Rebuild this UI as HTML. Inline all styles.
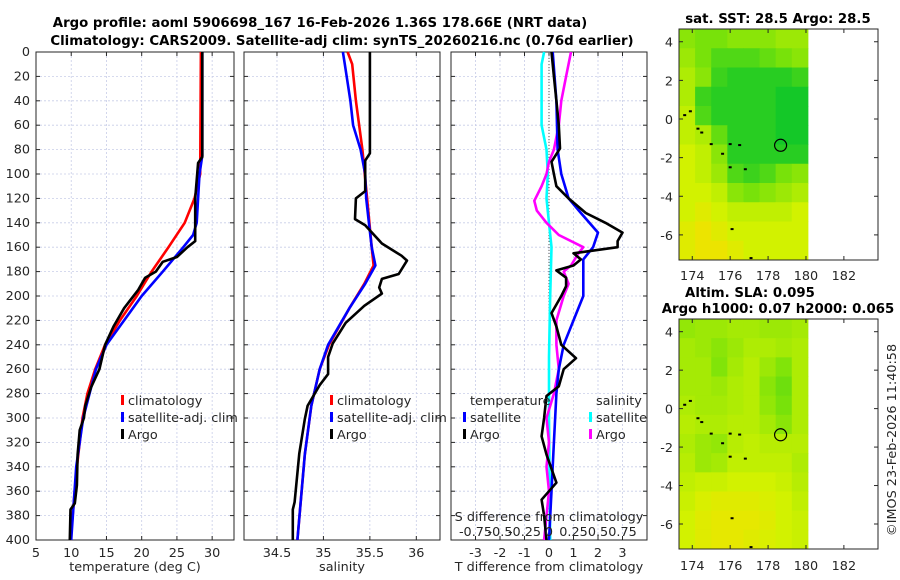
<!DOCTYPE html>
<html><head><meta charset="utf-8"><style>
body{margin:0;background:#fff}
svg{display:block;font-family:"DejaVu Sans","Liberation Sans",sans-serif}
.t{font-size:12.8px;fill:#262626}
.b{font-weight:bold;font-size:13.3px;fill:#000}
</style></head><body>
<svg id="c" width="900" height="580" viewBox="0 0 900 580">
<text class="b" x="320" y="27" text-anchor="middle">Argo profile: aoml 5906698_167 16-Feb-2026 1.36S 178.66E (NRT data)</text>
<text class="b" x="342" y="45" text-anchor="middle">Climatology: CARS2009. Satellite-adj clim: synTS_20260216.nc (0.76d earlier)</text>
<text class="b" x="778" y="23" text-anchor="middle">sat. SST: 28.5 Argo: 28.5</text>
<text class="b" x="750" y="297" text-anchor="middle">Altim. SLA: 0.095</text>
<text class="b" x="778" y="313" text-anchor="middle">Argo h1000: 0.07 h2000: 0.065</text>
<text class="t" transform="translate(896,440) rotate(-90)" text-anchor="middle">©IMOS 23-Feb-2026 11:40:58</text>
</svg>
<script>
// ---- data ----
const depthTicks=[0,20,40,60,80,100,120,140,160,180,200,220,240,260,280,300,320,340,360,380,400];
const tempTicks=[5,10,15,20,25,30];
const salTicks=[34.5,35,35.5,36];
const diffTicks=[-3,-2,-1,0,1,2,3];
const sDiffTicks=[-0.75,-0.5,-0.25,0,0.25,0.5,0.75];

const tArgoDepth=[0,86,91,120,155,160,168,172,180,185,195,210,225,240,260,275,290,300,310,330,355,370,375,400];
const tArgoVal=[28.6,28.6,28.0,27.6,27.6,26.5,25,23,22,20.5,19.5,17.5,16,14.8,14,12.8,12,11.8,11.2,10.9,10.8,10.5,9.9,9.8];
const tClimDepth=[0,100,120,140,160,180,200,220,240,260,280,300,340,400];
const tClimVal=[28.4,28.3,27.5,26.1,23.8,21.4,19.3,16.9,14.8,13.4,12.3,11.6,10.8,9.9];
const tSatDepth=[0,85,100,140,150,160,180,200,220,240,260,300,340,400];
const tSatVal=[28.6,28.6,28.2,27.8,27.3,25.9,23,20,17.5,15,13.5,11.7,10.7,10.0];

const sArgoDepth=[0,83,89,114,120,137,142,157,167,171,182,186,193,198,208,222,239,250,264,273,290,301,329,369,375,400];
const sArgoVal=[35.5,35.5,35.45,35.45,35.35,35.34,35.45,35.63,35.84,35.9,35.81,35.63,35.6,35.63,35.44,35.24,35.1,35.05,35.05,34.96,34.83,34.8,34.74,34.69,34.67,34.67];
const sClimDepth=[0,10,40,80,120,160,175,190,210,240,260,290,330,400];
const sClimVal=[35.26,35.31,35.35,35.42,35.47,35.52,35.54,35.44,35.28,35.06,34.96,34.87,34.8,34.72];
const sSatDepth=[0,10,40,60,80,100,120,140,160,175,190,210,240,260,290,330,400];
const sSatVal=[35.21,35.23,35.29,35.32,35.4,35.45,35.46,35.49,35.52,35.56,35.45,35.28,35.05,34.96,34.87,34.8,34.72];

const dTArgoDepth=[0,20,40,60,79,90,100,110,120,132,140,148,155,160,165,170,175,179,185,192,200,214,225,240,251,260,274,282,300,315,330,353,367,380,400];
const dTArgoVal=[0.1,0.2,0.3,0.4,0.45,0.1,0.2,0.3,0.8,1.5,2.3,3.0,2.8,2.8,1.0,1.3,1.0,0.3,0.7,0.7,0.5,0.1,0.3,0.5,1.1,0.6,0.4,-0.1,-0.2,-0.3,-0.1,0.3,-0.3,-0.2,-0.1];
const dTSatDepth=[0,40,80,100,120,132,148,160,170,200,220,240,260,280,320,360,400];
const dTSatVal=[0.15,0.3,0.35,0.5,0.8,1.3,2.0,1.8,1.4,1.4,1.0,0.6,0.4,0.3,0.2,0.1,0.0];
const dSSatDepth=[0,10,40,60,80,100,120,140,160,200,250,300,400];
const dSSatVal=[-0.05,-0.075,-0.075,-0.075,-0.025,-0.012,-0.025,0,0.025,0.012,0,0,0.012];
const dSArgoDepth=[0,20,40,60,80,90,100,110,122,130,140,150,160,165,175,180,190,200,220,240,260,280,300,320,340,360,400];
const dSArgoVal=[0.225,0.175,0.125,0.1,0.05,0,-0.025,-0.075,-0.15,-0.125,-0.025,0.1,0.35,0.3,0.225,0.15,0.2,0.15,0.075,0.075,0.1,0.05,-0.025,0,-0.025,0,-0.05];

const lonTicks=[174,176,178,180,182];
const latTicks=[4,2,0,-2,-4,-6];
const sstGrid=[
[0.4,0.5,0.5,0.4,0.4,0.4,0.3,0.3],
[0.3,0.5,0.7,0.7,0.7,0.6,0.5,0.4],
[0.2,0.4,0.8,0.9,0.9,0.9,0.9,0.8],
[0.2,0.8,0.9,0.9,0.9,0.9,1,1],
[0.1,0.7,0.9,0.9,0.9,0.9,1,1],
[0.1,0.2,0.6,0.9,0.9,0.9,1,1],
[0,0.1,0.4,0.9,0.9,0.9,0.9,0.9],
[0,0.1,0.3,0.7,0.8,0.7,0.5,0.4],
[0,0,0.1,0.4,0.5,0.4,0.3,0.2],
[0,-0.1,0,0.1,0.1,0.1,0.1,0],
[-0.1,-0.2,-0.1,0,0,0,0,0],
[-0.1,-0.2,-0.2,-0.1,0,0,0,0]];
const slaGrid=[
[0.35,0.3,0.3,0.25,0.25,0.3,0.3,0.25],
[0.25,0.3,0.4,0.3,0.2,0.2,0.25,0.2],
[0.25,0.25,0.45,0.25,0.15,0.3,0.45,0.2],
[0.25,0.25,0.3,0.2,0.15,0.4,0.55,0.2],
[0.2,0.25,0.25,0.2,0.15,0.35,0.5,0.2],
[0.15,0.2,0.2,0.15,0.15,0.25,0.4,0.2],
[0.2,0.3,0.35,0.15,0.1,0.15,0.15,0.15],
[0.15,0.3,0.25,0.1,0.1,0.1,0.1,0.2],
[0.1,0.05,0.05,0,0,0,0.05,0.15],
[0.05,-0.05,-0.1,-0.1,-0.1,-0.05,0,0.1],
[0,-0.1,-0.15,-0.15,-0.15,-0.1,0,0.05],
[0,-0.1,-0.15,-0.15,-0.1,-0.05,0,0.05]];
const islandLon=[173.6,173.9,174.3,174.5,175.0,175.6,176.0,176.5,176.0,176.8,176.1,177.1];
const islandLat=[0.2,0.4,-0.5,-0.7,-1.3,-1.8,-1.3,-1.35,-2.5,-2.6,-5.7,-7.2];
const argoLon=178.66, argoLat=-1.36;

// ---- drawing ----
const NS='http://www.w3.org/2000/svg';
const svg=document.getElementById('c');
function mk(tag,attrs,parent){const e=document.createElementNS(NS,tag);for(const k in attrs)e.setAttribute(k,attrs[k]);(parent||svg).appendChild(e);return e;}
const Y0=52,Y1=540;
const yD=d=>Y0+(d-0)/(400)*(Y1-Y0);

function panel(name,x0,x1,xmin,xmax,ticks,fmt){
  const xS=v=>x0+(v-xmin)/(xmax-xmin)*(x1-x0);
  const g=mk('g',{});
  
  
  depthTicks.forEach(d=>{const l=mk('line',{x1:x0,x2:x1,y1:yD(d),y2:yD(d),stroke:'#c8cde8','stroke-width':0.8,'stroke-dasharray':'2,2'},g);
    
    mk('line',{x1:x0,x2:x0+4,y1:yD(d),y2:yD(d),stroke:'#262626'},g);mk('line',{x1:x1-4,x2:x1,y1:yD(d),y2:yD(d),stroke:'#262626'},g);});
  ticks.forEach(v=>{const X=xS(v);const l=mk('line',{x1:X,x2:X,y1:Y0,y2:Y1,stroke:'#c8cde8','stroke-width':0.8,'stroke-dasharray':'2,2'},g);
    
    mk('line',{x1:X,x2:X,y1:Y1-4,y2:Y1,stroke:'#262626'},g);mk('line',{x1:X,x2:X,y1:Y0,y2:Y0+4,stroke:'#262626'},g);
    const t=mk('text',{x:X,y:Y1+17,'text-anchor':'middle',class:'t'},g);t.textContent=fmt(v);
    });
  const r=mk('rect',{x:x0,y:Y0,width:x1-x0,height:Y1-Y0,fill:'none',stroke:'#262626','stroke-width':1},g);
  
  return {xS,g};
}
function line(p,ds,vs,color,name,w){
  const pts=ds.map((d,i)=>p.xS(vs[i]).toFixed(1)+','+yD(d).toFixed(1)).join(' ');
  const l=mk('polyline',{points:pts,fill:'none',stroke:color,'stroke-width':w||2.6,'stroke-linejoin':'round'},p.g);
  
}
function txt(x,y,s,name,anchor){const t=mk('text',{x:x,y:y,class:'t','text-anchor':anchor||'start'});t.textContent=s;
  return t;}
function legend(x,y,color,s,name){const m=mk('rect',{x:x,y:y-10,width:3,height:10,fill:color});
  
  txt(x+7,y,s,name);}

depthTicks.forEach(d=>txt(30,yD(d)+4,String(d),'y-tick-label','end'));

const p1=panel('temperature-panel',36,234,5,33.1,tempTicks,v=>String(v));
line(p1,tClimDepth,tClimVal,'#f00','temp-climatology-line');
line(p1,tSatDepth,tSatVal,'#00f','temp-satellite-line');
line(p1,tArgoDepth,tArgoVal,'#000','temp-argo-line');
txt(135,571,'temperature (deg C)','x-axis-title-temperature','middle');
legend(121,405,'#f00','climatology','legend-climatology');
legend(121,422,'#00f','satellite-adj. clim','legend-satellite');
legend(121,439,'#000','Argo','legend-argo');

const p2=panel('salinity-panel',244,440,34.145,36.255,salTicks,v=>String(v));
line(p2,sClimDepth,sClimVal,'#f00','sal-climatology-line');
line(p2,sSatDepth,sSatVal,'#00f','sal-satellite-line');
line(p2,sArgoDepth,sArgoVal,'#000','sal-argo-line');
txt(342,571,'salinity','x-axis-title-salinity','middle');
legend(330,405,'#f00','climatology','legend-climatology-2');
legend(330,422,'#00f','satellite-adj. clim','legend-satellite-2');
legend(330,439,'#000','Argo','legend-argo-2');

const p3=panel('difference-panel',451,647,-4,4,diffTicks,v=>String(v));
const z=mk('line',{x1:p3.xS(0),x2:p3.xS(0),y1:Y0,y2:Y1,stroke:'#555','stroke-dasharray':'1,2','stroke-width':1},p3.g);

line(p3,dSSatDepth,dSSatVal.map(v=>v*4),'#0ff','sal-diff-satellite-line');
line(p3,dSArgoDepth,dSArgoVal.map(v=>v*4),'#f0f','sal-diff-argo-line');
line(p3,dTSatDepth,dTSatVal,'#00f','temp-diff-satellite-line');
line(p3,dTArgoDepth,dTArgoVal,'#000','temp-diff-argo-line');
txt(549,571,'T difference from climatology','x-axis-title-t-diff','middle');
txt(549,521,'S difference from climatology','s-axis-title','middle');
sDiffTicks.forEach(v=>txt(p3.xS(v*4),536,String(v),'s-tick-label','middle'));
txt(470,405,'temperature','legend-temperature-heading');
legend(463,422,'#00f','satellite','legend-t-satellite');
legend(463,439,'#000','Argo','legend-t-argo');
txt(596,405,'salinity','legend-salinity-heading');
legend(589,422,'#0ff','satellite','legend-s-satellite');
legend(589,439,'#f0f','Argo','legend-s-argo');

function col(v){const stops=[[-0.2,[236,228,0]],[0,[210,242,0]],[0.5,[120,226,10]],[1,[20,200,40]]];
  v=Math.max(-0.2,Math.min(1,v));for(let i=0;i<stops.length-1;i++){const a=stops[i],b=stops[i+1];if(v<=b[0]){const t=(v-a[0])/(b[0]-a[0]);
  return 'rgb('+a[1].map((c,k)=>Math.round(c+(b[1][k]-c)*t)).join(',')+')';}}return 'rgb(20,200,40)';}
function map(name,grid,top,bot,lonLabelY){
  const x0=679,x1=878,lonMin=173.3,lonMax=183.8,latMax=4.66,latMin=-7.3;
  const xS=l=>x0+(l-lonMin)/(lonMax-lonMin)*(x1-x0);
  const yS=l=>top+(latMax-l)/(latMax-latMin)*(bot-top);
  const g=mk('g',{});
  const nr=grid.length,nc=grid[0].length,dLon=(180.1-lonMin)/nc,dLat=(latMax-latMin)/nr;
  grid.forEach((row,r)=>row.forEach((v,c)=>{const X=xS(lonMin+c*dLon),Yt=yS(latMax-r*dLat);
    const cell=mk('rect',{x:X,y:Yt,width:xS(lonMin+(c+1)*dLon)-X+0.5,height:yS(latMax-(r+1)*dLat)-Yt+0.5,fill:col(v)},g);
    }));
  islandLon.forEach((l,i)=>{const d=mk('rect',{x:xS(l)-1.5,y:yS(islandLat[i])-1,width:3,height:2,fill:'#000'},g);
    });
  const c=mk('circle',{cx:xS(argoLon),cy:yS(argoLat),r:6,fill:'none',stroke:'#000','stroke-width':1.2},g);
  
  const b=mk('rect',{x:x0,y:top,width:x1-x0,height:bot-top,fill:'none',stroke:'#262626'},g);
  
  lonTicks.forEach(l=>{mk('line',{x1:xS(l),x2:xS(l),y1:bot,y2:bot-4,stroke:'#262626'},g);mk('line',{x1:xS(l),x2:xS(l),y1:top,y2:top+4,stroke:'#262626'},g);
    txt(xS(l),lonLabelY,String(l),'lon-tick-label','middle');});
  latTicks.forEach(l=>{mk('line',{x1:x0,x2:x0+4,y1:yS(l),y2:yS(l),stroke:'#262626'},g);mk('line',{x1:x1-4,x2:x1,y1:yS(l),y2:yS(l),stroke:'#262626'},g);
    txt(673,yS(l)+5,String(l),'lat-tick-label','end');});
}
map('sst-map',sstGrid,29,260,280);
map('sla-map',slaGrid,319,549,570);
</script>
</body></html>
